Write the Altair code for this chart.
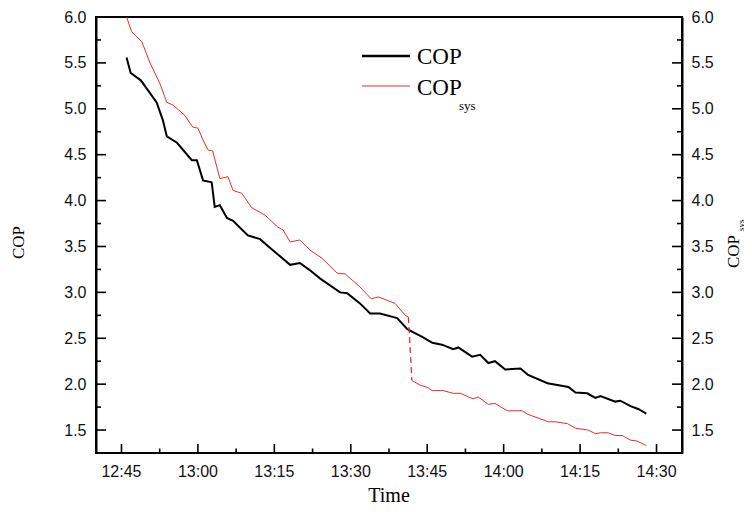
import altair as alt
import pandas as pd

# ---- data (time in minutes after midnight) ----
cop_time = [766.0, 766.8, 768.8, 771.9, 773.1, 773.9, 775.9, 778.8, 779.8, 781.0,
            782.7, 783.3, 784.3, 785.7, 786.9, 789.8, 792.2, 794.7, 798.1, 800.0,
            802.0, 804.0, 807.9, 809.3, 811.8, 813.8, 815.7, 819.1, 821.1, 824.2,
            826.0, 827.9, 830.1, 831.1, 833.8, 835.4, 837.0, 838.3, 840.3, 843.3,
            844.8, 848.6, 849.7, 852.7, 854.1, 856.4, 858.0, 859.0, 861.9, 862.9,
            864.9, 866.4, 868.0]
cop_value = [5.56, 5.39, 5.31, 5.07, 4.88, 4.70, 4.63, 4.44, 4.44, 4.22,
             4.20, 3.93, 3.95, 3.81, 3.78, 3.62, 3.58, 3.46, 3.30, 3.32,
             3.24, 3.15, 3.00, 2.99, 2.88, 2.77, 2.77, 2.72, 2.60, 2.51,
             2.45, 2.43, 2.38, 2.40, 2.30, 2.32, 2.23, 2.25, 2.16, 2.17,
             2.10, 2.01, 2.00, 1.97, 1.91, 1.90, 1.85, 1.87, 1.81, 1.82,
             1.76, 1.73, 1.68]

sys_time_before = [766.0, 767.0, 769.0, 770.6, 772.5, 773.9, 775.1, 777.4, 779.0, 780.0,
                   781.0, 782.0, 782.9, 784.3, 785.9, 786.9, 788.6, 790.6, 793.2, 795.7,
                   796.7, 798.1, 800.0, 802.0, 804.4, 807.3, 808.9, 811.8, 814.0, 815.4,
                   818.7, 820.7, 821.3]
sys_value_before = [6.00, 5.84, 5.73, 5.50, 5.28, 5.07, 5.04, 4.93, 4.80, 4.79,
                    4.66, 4.55, 4.54, 4.24, 4.26, 4.11, 4.08, 3.92, 3.84, 3.71,
                    3.68, 3.55, 3.57, 3.46, 3.37, 3.21, 3.20, 3.06, 2.93, 2.95,
                    2.88, 2.75, 2.73]
sys_time_after = [822.0, 823.6, 825.2, 826.0, 828.1, 830.1, 831.5, 834.0, 835.0, 837.0,
                  838.3, 840.7, 843.6, 844.8, 848.8, 850.1, 852.5, 854.1, 856.6, 858.0,
                  859.0, 860.5, 861.9, 863.3, 864.9, 866.2, 868.0]
sys_value_after = [2.04, 1.99, 1.96, 1.93, 1.93, 1.90, 1.90, 1.84, 1.86, 1.78,
                   1.79, 1.71, 1.71, 1.67, 1.59, 1.59, 1.57, 1.52, 1.50, 1.46,
                   1.47, 1.47, 1.44, 1.44, 1.39, 1.38, 1.33]

x_tick_labels = ["12:45", "13:00", "13:15", "13:30", "13:45", "14:00", "14:15", "14:30"]
y_tick_values = [1.5, 2.0, 2.5, 3.0, 3.5, 4.0, 4.5, 5.0, 5.5, 6.0]


def to_min(s):
    h, m = s.split(":")
    return int(h) * 60 + int(m)


x_major = [to_min(s) for s in x_tick_labels]
x_minor = [a + 7.5 for a in x_major[:-1]]
y_minor = [v - 0.25 for v in y_tick_values[1:]]

W, H = 586, 436
SERIF = "Liberation Serif"
SANS = "Liberation Sans"
RED = "#e0302c"

xscale = alt.Scale(domain=[760, 875], nice=False, zero=False)
yscale = alt.Scale(domain=[1.25, 6.0], nice=False, zero=False)

cop_df = pd.DataFrame({"t": cop_time, "v": cop_value})
sys_df = pd.concat([
    pd.DataFrame({"t": sys_time_before, "v": sys_value_before, "seg": "a"}),
    pd.DataFrame({"t": sys_time_after, "v": sys_value_after, "seg": "b"}),
])
drop_df = pd.DataFrame({"t": [sys_time_before[-1], sys_time_after[0]],
                        "v": [sys_value_before[-1], sys_value_after[0]]})

x_axis = alt.Axis(values=x_major, labels=False, ticks=False, grid=False,
                  title=None, domainColor="black", domainWidth=2)
y_left_axis = alt.Axis(orient="left", values=y_tick_values, format=".1f",
                       ticks=False, grid=False, title=None, domainColor="black",
                       domainWidth=2, labelFont=SANS, labelFontSize=16,
                       labelColor="#111", labelPadding=10)
y_right_axis = alt.Axis(orient="right", values=y_tick_values, format=".1f",
                        ticks=False, grid=False, title=None, domainColor="black",
                        domainWidth=2, labelFont=SANS, labelFontSize=16,
                        labelColor="#111", labelPadding=9)

cop_line = alt.Chart(cop_df).mark_line(color="black", strokeWidth=2, clip=True).encode(
    x=alt.X("t:Q", scale=xscale, axis=x_axis),
    y=alt.Y("v:Q", scale=yscale, axis=y_left_axis),
)
sys_line = alt.Chart(sys_df).mark_line(color=RED, strokeWidth=1, clip=True).encode(
    x=alt.X("t:Q", scale=xscale, axis=None),
    y=alt.Y("v:Q", scale=yscale, axis=y_right_axis),
    detail="seg:N",
)
drop_line = alt.Chart(drop_df).mark_line(color=RED, strokeWidth=1.3,
                                         strokeDash=[6, 4], clip=True).encode(
    x=alt.X("t:Q", scale=xscale, axis=None),
    y=alt.Y("v:Q", scale=yscale, axis=None),
)

# x tick labels as text
xlab_df = pd.DataFrame({"t": x_major, "label": x_tick_labels})
xlabels = alt.Chart(xlab_df).mark_text(
    font=SANS, fontSize=16, baseline="top", align="center", color="#111").encode(
    x=alt.X("t:Q", scale=xscale, axis=None), y=alt.value(H + 11), text="label:N")

# inward tick marks
xmaj_df = pd.DataFrame({"t": x_major})
xmin_df = pd.DataFrame({"t": x_minor})
ymaj_df = pd.DataFrame({"v": y_tick_values})
ymin_df = pd.DataFrame({"v": y_minor})
tick_style = dict(color="black", strokeWidth=1.6)

xmaj = alt.Chart(xmaj_df).mark_rule(**tick_style).encode(
    x=alt.X("t:Q", scale=xscale, axis=None), y=alt.value(H), y2=alt.value(H - 9))
xmin = alt.Chart(xmin_df).mark_rule(**tick_style).encode(
    x=alt.X("t:Q", scale=xscale, axis=None), y=alt.value(H), y2=alt.value(H - 4.5))
ylmaj = alt.Chart(ymaj_df).mark_rule(**tick_style).encode(
    y=alt.Y("v:Q", scale=yscale, axis=None), x=alt.value(0), x2=alt.value(10))
ylmin = alt.Chart(ymin_df).mark_rule(**tick_style).encode(
    y=alt.Y("v:Q", scale=yscale, axis=None), x=alt.value(0), x2=alt.value(5))
yrmaj = alt.Chart(ymaj_df).mark_rule(**tick_style).encode(
    y=alt.Y("v:Q", scale=yscale, axis=None), x=alt.value(W), x2=alt.value(W - 10))
yrmin = alt.Chart(ymin_df).mark_rule(**tick_style).encode(
    y=alt.Y("v:Q", scale=yscale, axis=None), x=alt.value(W), x2=alt.value(W - 5))

one = pd.DataFrame({"k": [0]})


def txt(s, x, y, size, angle=0, align="left", baseline="alphabetic", font=SERIF):
    return alt.Chart(one).mark_text(
        font=font, fontSize=size, angle=angle, align=align, baseline=baseline,
        color="black").encode(x=alt.value(x), y=alt.value(y), text=alt.value(s))


titles = [
    txt("COP", -72, 225.5, 17, angle=270, align="center"),
    txt("COP", 643, 251, 17, angle=270, align="left"),
    txt("sys", 647.5, 214, 9, angle=270, align="left"),
    txt("Time", W / 2, 485, 20, align="center"),
    # legend
    txt("COP", 321, 47, 23),
    txt("COP", 321, 78, 23),
    txt("sys", 363, 93, 13),
]

leg_black = alt.Chart(one).mark_rule(color="black", strokeWidth=2.5).encode(
    x=alt.value(266), x2=alt.value(314), y=alt.value(39))
leg_red = alt.Chart(one).mark_rule(color=RED, strokeWidth=1).encode(
    x=alt.value(266), x2=alt.value(314), y=alt.value(69))

chart = alt.layer(
    cop_line, sys_line, drop_line, xlabels,
    xmaj, xmin, ylmaj, ylmin, yrmaj, yrmin,
    leg_black, leg_red, *titles,
).resolve_axis(y="independent").properties(
    width=W, height=H,
    autosize=alt.AutoSizeParams(type="none"),
    padding={"left": 88, "top": 9, "right": 62, "bottom": 53},
).configure_view(stroke="black", strokeWidth=2)

chart.save("out.html", embed_options={"renderer": "svg", "actions": False})
